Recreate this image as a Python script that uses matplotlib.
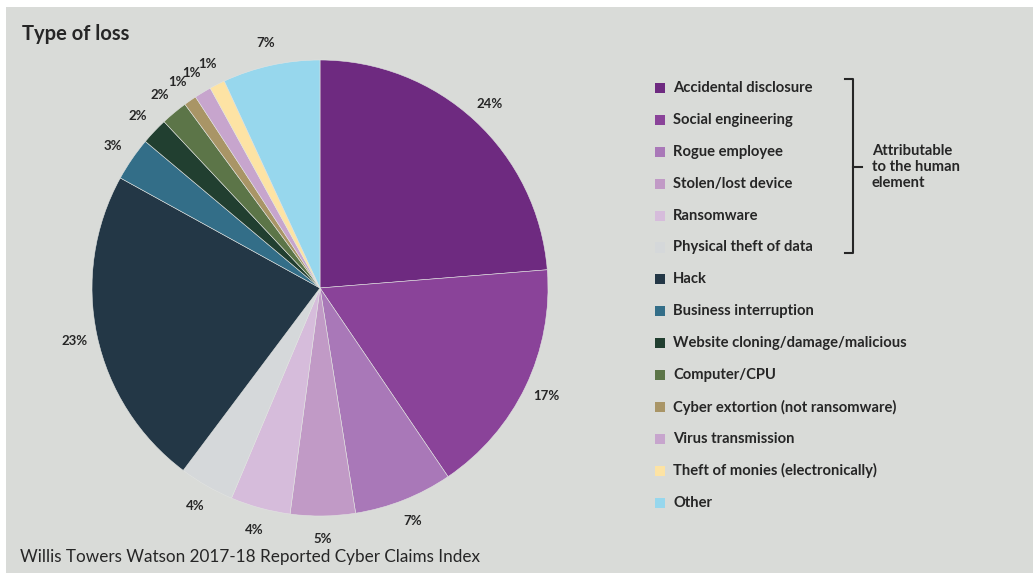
import matplotlib
matplotlib.use("Agg")
import matplotlib.pyplot as plt
from matplotlib.patches import Rectangle
from matplotlib.lines import Line2D

plt.rcParams['font.family'] = ['Lato', 'DejaVu Sans']

categories = [
    "Accidental disclosure", "Social engineering", "Rogue employee",
    "Stolen/lost device", "Ransomware", "Physical theft of data", "Hack",
    "Business interruption", "Website cloning/damage/malicious",
    "Computer/CPU", "Cyber extortion (not ransomware)", "Virus transmission",
    "Theft of monies (electronically)", "Other",
]
shares = [23.75, 16.8, 7.0, 4.6, 4.25, 3.9, 22.8, 3.1, 1.9, 1.9, 0.9, 1.2, 1.1, 6.9]
pct_labels = ["24%", "17%", "7%", "5%", "4%", "4%", "23%", "3%", "2%", "2%",
              "1%", "1%", "1%", "7%"]
colors = [
    "#6e2a80", "#8a4399", "#a978b8", "#c19ac6", "#d6bcdb", "#d5d8da",
    "#233746", "#336e88", "#213f30", "#5c7548", "#a99566", "#c7a5cd",
    "#fde3a4", "#97d7ed",
]
bg = "#d9dbd8"
txt = "#262626"

W, H = 1035, 578
fig = plt.figure(figsize=(W / 100, H / 100), dpi=100)
fig.patch.set_facecolor("white")
fig.add_artist(Rectangle((6 / W, 5 / H), (1033 - 6) / W, (571 - 5) / H,
                         transform=fig.transFigure, facecolor=bg,
                         edgecolor="none", zorder=0))

# pie: centre (320, 288) px, radius 228 px
cx, cy, r = 320, 288, 228
ax = fig.add_axes([(cx - r) / W, (H - cy - r) / H, 2 * r / W, 2 * r / H])
ax.set_facecolor("none")
wedges, texts = ax.pie(shares, colors=colors, startangle=90, counterclock=False,
                       labels=pct_labels, labeldistance=1.1,
                       wedgeprops=dict(linewidth=0.4, edgecolor="#e2e4e2"),
                       textprops=dict(fontsize=9.5, fontweight="bold", color=txt,
                                      ha="center", va="center"))
for t in texts:
    t.set_ha("center")
ax.set_xlim(-1, 1)
ax.set_ylim(-1, 1)
ax.set_aspect("equal")
ax.axis("off")

fig.text(22 / W, 1 - 34 / H, "Type of loss", fontsize=14.5, fontweight="bold",
         color=txt, ha="left", va="center")
fig.text(20 / W, 1 - 557 / H, "Willis Towers Watson 2017-18 Reported Cyber Claims Index",
         fontsize=12.3, color=txt, ha="left", va="center")

# legend
y0, dy = 88, 31.9
for i, (name, col) in enumerate(zip(categories, colors)):
    y = y0 + i * dy
    fig.add_artist(Rectangle((655 / W, 1 - (y + 5) / H), 10 / W, 10 / H,
                             transform=fig.transFigure, facecolor=col,
                             edgecolor="none"))
    fig.text(673 / W, 1 - y / H, name, fontsize=10.6, fontweight="bold",
             color=txt, ha="left", va="center")

# bracket for the human element
bx, top, bot, mid = 853, 79, 253, 167
pts_x = [845, bx, bx, 845]
pts_y = [top, top, bot, bot]
fig.add_artist(Line2D([p / W for p in pts_x], [1 - p / H for p in pts_y],
                      color=txt, linewidth=1.5, transform=fig.transFigure))
fig.add_artist(Line2D([bx / W, 862 / W], [1 - mid / H, 1 - mid / H],
                      color=txt, linewidth=1.5, transform=fig.transFigure))
fig.text(872 / W, 1 - mid / H, "Attributable\nto the human\nelement",
         fontsize=10.6, fontweight="bold", color=txt, ha="left", va="center",
         linespacing=1.2)

fig.savefig("out.png", dpi=100, facecolor=fig.get_facecolor())
